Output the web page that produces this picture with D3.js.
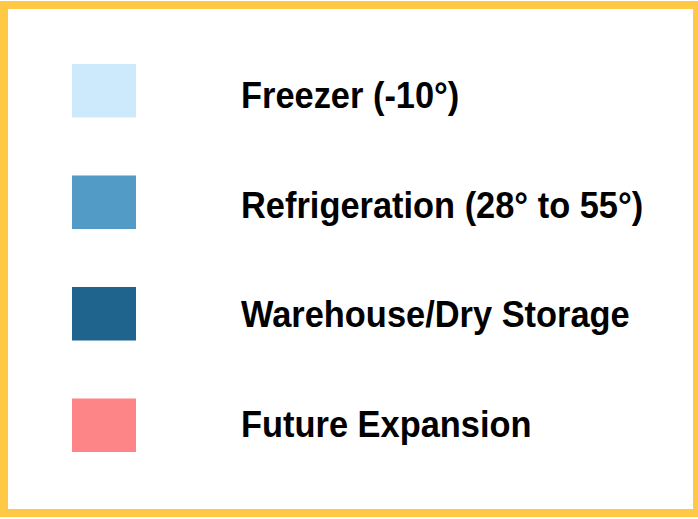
<!DOCTYPE html>
<html>
<head>
<meta charset="utf-8">
<script src="https://cdn.jsdelivr.net/npm/d3@7"></script>
<style>
  html, body { margin: 0; padding: 0; background: #fff; }
  svg { display: block; }
  .label { font-family: "Liberation Sans", Arial, sans-serif; font-weight: bold; font-size: 37px; fill: #000; }
</style>
</head>
<body>
<svg id="legend"></svg>
<script>
// legend entries
var categories = ['Freezer (-10°)', 'Refrigeration (28° to 55°)', 'Warehouse/Dry Storage', 'Future Expansion'];
var colors = ['#cdeafd', '#519bc6', '#1f648d', '#fe8587'];

var width = 698,
    height = 519;

var svg = d3.select("svg#legend")
    .attr("width", width)
    .attr("height", height);

// yellow frame
svg.append("rect")
    .attr("x", 4)
    .attr("y", 5)
    .attr("width", 693)
    .attr("height", 508)
    .attr("fill", "#fff")
    .attr("stroke", "#ffc845")
    .attr("stroke-width", 8);

var y = d3.scaleBand()
    .domain(categories)
    .range([35, 481])
    .paddingInner(0.52)
    .paddingOuter(0.26);

// label baselines sit on a slightly tighter spacing than the swatches
var yText = d3.scalePoint()
    .domain(categories)
    .range([108, 437]);

var color = d3.scaleOrdinal()
    .domain(categories)
    .range(colors);

svg.selectAll("rect.swatch")
    .data(categories)
  .enter().append("rect")
    .attr("class", "swatch")
    .attr("x", 72)
    .attr("y", function(d) { return y(d); })
    .attr("width", 64)
    .attr("height", y.bandwidth())
    .attr("fill", function(d) { return color(d); });

// narrow bold look: squeeze a regular bold face horizontally
svg.selectAll("text.label")
    .data(categories)
  .enter().append("text")
    .attr("class", "label")
    .attr("transform", function(d) { return "translate(241," + yText(d) + ") scale(0.93,1)"; })
    .text(function(d) { return d; });
</script>
</body>
</html>
